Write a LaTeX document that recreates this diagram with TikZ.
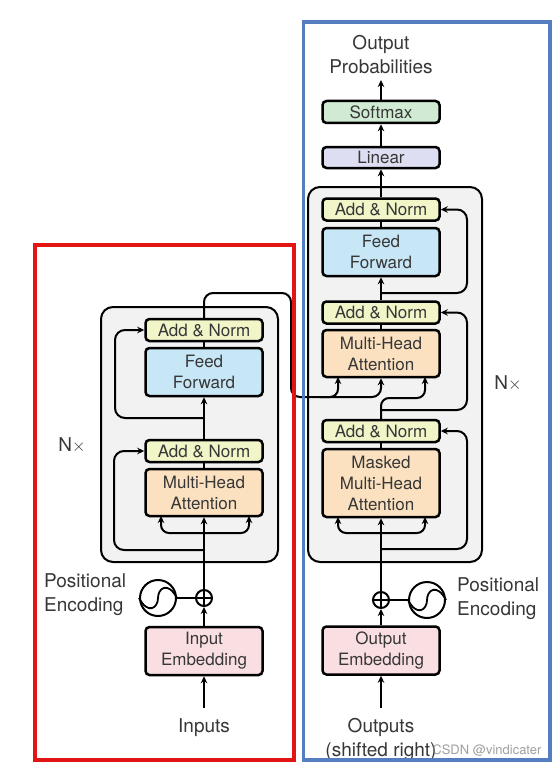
\documentclass[tikz,border=0pt]{standalone}
\usepackage{fontspec}
\setmainfont{TeX Gyre Heros}
\usetikzlibrary{arrows.meta}
\definecolor{cAN}{RGB}{241,245,200}
\definecolor{cFF}{RGB}{199,230,246}
\definecolor{cMHA}{RGB}{251,225,191}
\definecolor{cEMB}{RGB}{249,222,226}
\definecolor{cSM}{RGB}{209,234,212}
\definecolor{cLIN}{RGB}{221,222,241}
\definecolor{cGRAY}{RGB}{242,242,242}
\definecolor{txt}{RGB}{55,55,55}
\definecolor{cRED}{RGB}{226,20,20}
\definecolor{cBLUE}{RGB}{84,126,192}
\newcommand\tfbox{\fontsize{17}{21}\selectfont}
\newcommand\tflbl{\fontsize{19}{24}\selectfont}
\begin{document}
\begin{tikzpicture}[x=1pt,y=-1pt,
  conn/.style={line width=2pt, draw=black},
  arr/.style={conn, -{Stealth[length=7pt,width=6.5pt]}},
  blk/.style={draw=black, line width=2.5pt, rounded corners=4pt, minimum width=117pt, inner sep=0pt, align=center, text=txt, font=\tfbox},
  an/.style={blk, fill=cAN, minimum height=22pt},
  ff/.style={blk, fill=cFF, minimum height=48pt},
  mha/.style={blk, fill=cMHA, minimum height=47pt},
  emb/.style={blk, fill=cEMB, minimum height=48pt},
  stack/.style={draw=black, line width=2pt, fill=cGRAY, rounded corners=12pt},
  lbl/.style={text=txt, font=\tflbl, align=center, inner sep=0pt},
  plus/.style={circle, draw=black, line width=2pt, minimum size=16pt, inner sep=0pt},
  sine/.style={circle, draw=black, line width=2pt, minimum size=36pt, inner sep=0pt},
  frame/.style={line width=4pt}
]
\useasboundingbox (0,0) rectangle (554,765);
\fill[white] (0,0) rectangle (554,765);

% ---------- stacks ----------
\draw[stack] (101,307) rectangle (278,562);
\draw[stack] (308,187) rectangle (482,562);

% ---------- encoder ----------
\node[an]  (ean2) at (204,330) {Add \& Norm};
\node[ff]  (eff)  at (204,372) {Feed\\Forward};
\node[an]  (ean1) at (204,451) {Add \& Norm};
\node[mha] (emha) at (204,492.5) {Multi-Head\\Attention};
\node[emb] (eemb) at (204,651) {Input\\Embedding};
\node[plus] (eplus) at (204,598) {};
\node[sine] (esin) at (158,598) {};
\node[lbl] (enx) at (72,445) {N$\times$};
\node[lbl, align=left, anchor=west] (epos) at (44,595) {Positional\\Encoding};
\node[lbl] (einp) at (204,728) {Inputs};
\coordinate (einpt) at (204,708);

% ---------- decoder ----------
\node[an]  (dan3) at (381,209.5) {Add \& Norm};
\node[ff]  (dff)  at (381,252) {Feed\\Forward};
\node[an]  (dan2) at (381,312.5) {Add \& Norm};
\node[mha] (dmha) at (381,353.5) {Multi-Head\\Attention};
\node[an]  (dan1) at (381,431) {Add \& Norm};
\node[mha, minimum height=68pt] (dmmha) at (381,483) {Masked\\Multi-Head\\Attention};
\node[emb] (demb) at (381,650.5) {Output\\Embedding};
\node[plus] (dplus) at (381,600) {};
\node[sine] (dsin) at (427,600) {};
\node[blk, fill=cLIN, minimum height=21pt] (dlin) at (381,157.5) {Linear};
\node[blk, fill=cSM, minimum height=22pt] (dsm) at (381,112) {Softmax};
\node[lbl] (dprob) at (381,55) {Output\\Probabilities};
\coordinate (dprobt) at (381,80);
\node[lbl] (dnx) at (508,383) {N$\times$};
\node[lbl, align=left, anchor=west] (dpos) at (457,599) {Positional\\Encoding};
\node[lbl] (dout) at (381,739) {Outputs\\(shifted right)};
\coordinate (doutt) at (381,708);

% plus signs and sine waves
\draw[line width=1.6pt] (eplus.north) -- (eplus.south) (eplus.west) -- (eplus.east);
\draw[line width=1.6pt] (dplus.north) -- (dplus.south) (dplus.west) -- (dplus.east);
\draw[line width=1.8pt] (esin.west) .. controls ([xshift=9pt,yshift=-17pt]esin.west) and ([yshift=-10pt]esin.center) .. (esin.center) .. controls ([yshift=10pt]esin.center) and ([xshift=-9pt,yshift=17pt]esin.east) .. (esin.east);
\draw[line width=1.8pt] (dsin.west) .. controls ([xshift=9pt,yshift=-17pt]dsin.west) and ([yshift=-10pt]dsin.center) .. (dsin.center) .. controls ([yshift=10pt]dsin.center) and ([xshift=-9pt,yshift=17pt]dsin.east) .. (dsin.east);

% ---------- encoder connectors ----------
\draw[arr] (einpt) -- (eemb.south);
\draw[arr] (eemb.north) -- (eplus.south);
\draw[conn] (esin.east) -- (eplus.west);
\draw[arr] (eplus.north) -- (emha.south);
\draw[arr, rounded corners=8pt] (204,533) -- (161,533) -- (161,516);
\draw[arr, rounded corners=8pt] (204,533) -- (249,533) -- (249,516);
\draw[arr, rounded corners=10pt] (204,550) -- (114,550) -- (114,451) -- (ean1.west);
\draw[conn] (emha.north) -- (ean1.south);
\draw[arr] (ean1.north) -- (eff.south);
\draw[arr, rounded corners=10pt] (204,418) -- (115,418) -- (115,330) -- (ean2.west);
\draw[conn] (eff.north) -- (ean2.south);
\draw[arr, rounded corners=9pt] (ean2.north) -- (204,293) -- (291,293) -- (291,397) -- (381,397) -- (dmha.south);
\draw[arr, rounded corners=8pt] (320,397) -- (338,397) -- (338,377);

% ---------- decoder connectors ----------
\draw[arr] (doutt) -- (demb.south);
\draw[arr] (demb.north) -- (dplus.south);
\draw[conn] (dsin.west) -- (dplus.east);
\draw[arr] (dplus.north) -- (dmmha.south);
\draw[arr, rounded corners=8pt] (381,533) -- (338,533) -- (338,517);
\draw[arr, rounded corners=8pt] (381,533) -- (425,533) -- (425,517);
\draw[arr, rounded corners=10pt] (381,549) -- (467,549) -- (467,431) -- (dan1.east);
\draw[conn] (dmmha.north) -- (dan1.south);
\draw[arr, rounded corners=8pt] (dan1.north) -- (381,398) -- (425,398) -- (425,377);
\draw[arr, rounded corners=10pt] (381,410) -- (467,410) -- (467,312.5) -- (dan2.east);
\draw[conn] (dmha.north) -- (dan2.south);
\draw[arr] (dan2.north) -- (dff.south);
\draw[arr, rounded corners=10pt] (381,293) -- (467,293) -- (467,209.5) -- (dan3.east);
\draw[conn] (dff.north) -- (dan3.south);
\draw[arr] (dan3.north) -- (dlin.south);
\draw[arr] (dlin.north) -- (dsm.south);
\draw[arr] (dsm.north) -- (dprobt);

% ---------- frames ----------
\draw[frame, draw=cRED] (35,245) rectangle (294,760);
\draw[frame, draw=cBLUE, line width=3.5pt] (303.5,22) rectangle (550,760);

% watermark
\node[font=\fontsize{13}{15}\selectfont, text=gray, opacity=0.75, anchor=east] (wm) at (545,751) {CSDN @vindicater};
\end{tikzpicture}
\end{document}
